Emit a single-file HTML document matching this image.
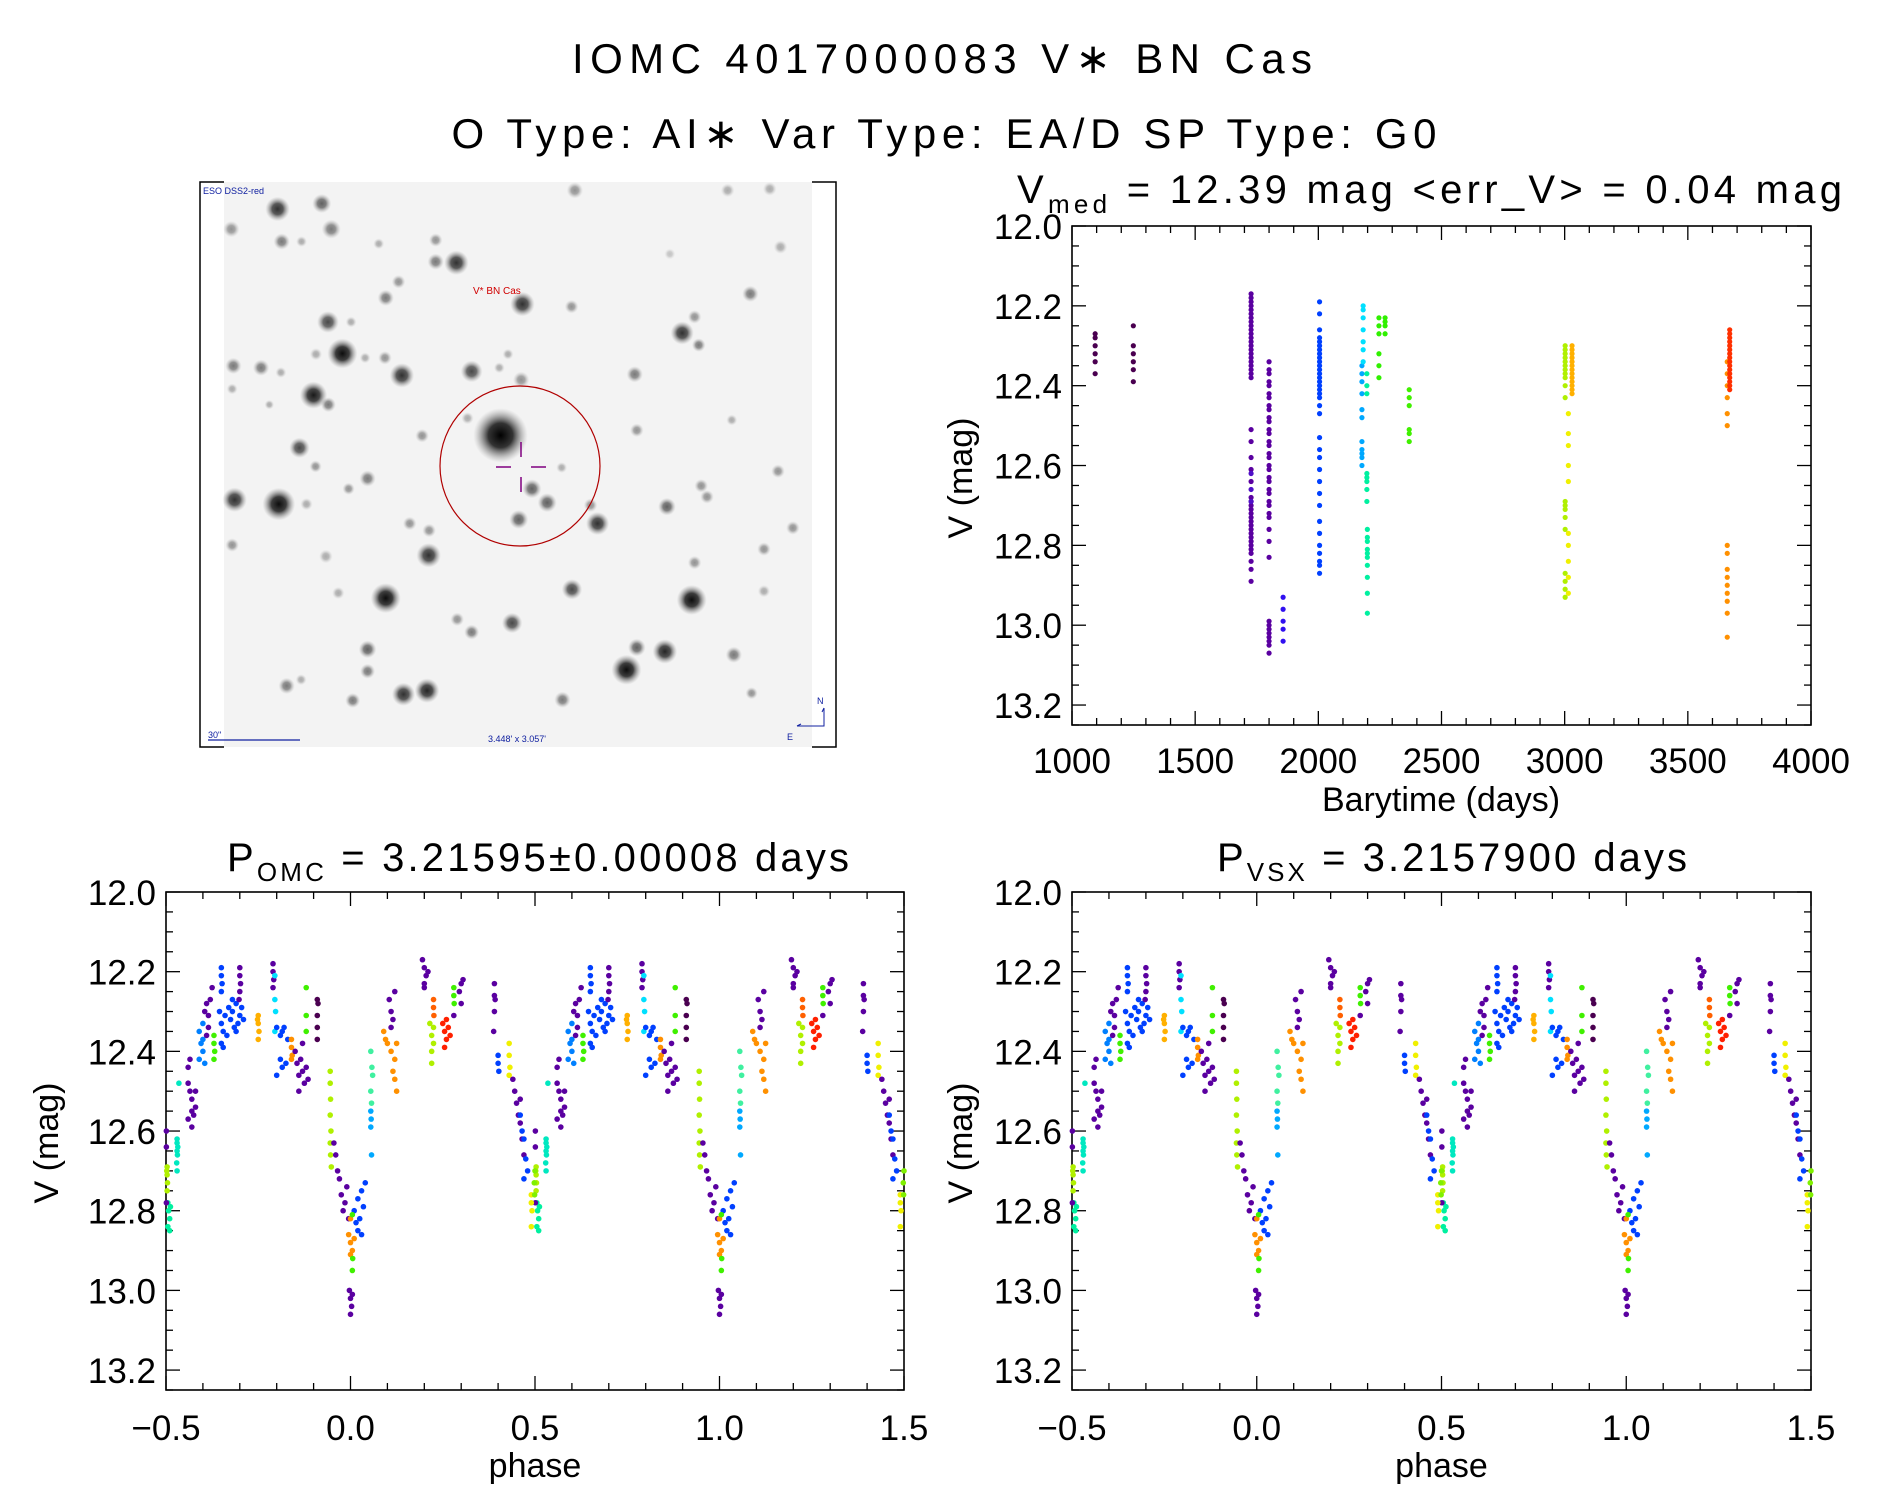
<!DOCTYPE html>
<html><head><meta charset="utf-8"><style>
html,body{margin:0;padding:0;background:#fff;}
svg{display:block;font-family:"Liberation Sans",sans-serif;}
</style></head><body>
<svg id="fig" width="1889" height="1494" viewBox="0 0 1889 1494" xmlns="http://www.w3.org/2000/svg">
<defs>
<radialGradient id="starg"><stop offset="0" stop-color="#000"/><stop offset="0.45" stop-color="#111" stop-opacity="0.85"/><stop offset="1" stop-color="#888" stop-opacity="0"/></radialGradient>
</defs>
<text x="942" y="73" font-size="42" text-anchor="middle" textLength="740" lengthAdjust="spacing">IOMC 4017000083   V∗ BN Cas</text>
<text x="944" y="148" font-size="42" text-anchor="middle" textLength="985" lengthAdjust="spacing">O Type: AI∗  Var Type: EA/D  SP Type: G0</text>
<g id="img"></g>
<g id="ts"></g>
<g id="p1"></g>
<g id="p2"></g>
</svg>
<script>
// ---- chart data ----
const yTicks=[12.0,12.2,12.4,12.6,12.8,13.0,13.2];
const yTickLabels=["12.0","12.2","12.4","12.6","12.8","13.0","13.2"];
const tTicks=[1000,1500,2000,2500,3000,3500,4000];
const tTickLabels=["1000","1500","2000","2500","3000","3500","4000"];
const phTicks=[-0.5,0,0.5,1.0,1.5];
const phTickLabels=["\u22120.5","0.0","0.5","1.0","1.5"];
// time series: colour, time, magnitudes
const tsColors=["#4a0050","#4a0050","#5a00a0","#5a00a0","#5010c8","#5a00a0","#5a00a0","#3010f0","#0040ff","#0040ff","#00a8ff","#00e0ff","#00f0a0","#00f0a0","#30f000","#30f000","#40f000","#b0f000","#f0f000","#ffb000","#ff9000","#ff9000","#ff3000"];
const tsTimes=[1094,1249,1727,1727,1727,1800,1800,1857,2005,2005,2177,2182,2197,2199,2246,2271,2369,3002,3015,3030,3660,3660,3670];
const tsMags=[
[12.27,12.28,12.30,12.32,12.34,12.37],
[12.25,12.30,12.32,12.34,12.36,12.39],
[12.17,12.18,12.19,12.20,12.21,12.22,12.23,12.24,12.25,12.26,12.27,12.28,12.29,12.30,12.31,12.32,12.33,12.34,12.35,12.36,12.37,12.38],
[12.51,12.54,12.58,12.61,12.64,12.68,12.69,12.70,12.71,12.72,12.73,12.74,12.75,12.76,12.77,12.78,12.79,12.80,12.81,12.82,12.84,12.86,12.89],
[12.62,12.66,12.69],
[12.34,12.36,12.37,12.39,12.40,12.42,12.43,12.45,12.46,12.48,12.49,12.51,12.52,12.54,12.55,12.57,12.58,12.60,12.61,12.63,12.64,12.66,12.67,12.69,12.70,12.72,12.73,12.76,12.79,12.83],
[12.99,13.00,13.01,13.02,13.03,13.04,13.05,13.07],
[12.93,12.96,12.99,13.01,13.04],
[12.19,12.22,12.26,12.28,12.29,12.30,12.31,12.32,12.33,12.34,12.35,12.36,12.37,12.38,12.39,12.40,12.41,12.42,12.43,12.45,12.47],
[12.53,12.56,12.58,12.61,12.64,12.67,12.70,12.74,12.77,12.80,12.82,12.84,12.85,12.87],
[12.35,12.37,12.39,12.42,12.46,12.48,12.54,12.56,12.57,12.58,12.60],
[12.20,12.21,12.23,12.26,12.29,12.31,12.34],
[12.37,12.40,12.42,12.62,12.63,12.64,12.66,12.69],
[12.76,12.78,12.79,12.81,12.82,12.83,12.85,12.88,12.92,12.97],
[12.23,12.25,12.27,12.32,12.35,12.38],
[12.23,12.24,12.25,12.27],
[12.41,12.43,12.45,12.51,12.52,12.54],
[12.30,12.31,12.32,12.33,12.34,12.35,12.36,12.37,12.38,12.40,12.43,12.69,12.70,12.71,12.73,12.76,12.87,12.89,12.91,12.93],
[12.47,12.52,12.55,12.60,12.64,12.77,12.80,12.84,12.88,12.92],
[12.30,12.31,12.32,12.33,12.34,12.35,12.36,12.37,12.38,12.39,12.40,12.41,12.42],
[12.34,12.37,12.40,12.43,12.47,12.50],
[12.80,12.82,12.86,12.88,12.90,12.92,12.94,12.97,13.03],
[12.26,12.27,12.28,12.29,12.30,12.31,12.32,12.33,12.34,12.35,12.36,12.37,12.38,12.39,12.40,12.41]
];
// phased data (phase in [-0.5,0.5)); plotted at phase and phase+1
const phColors=["#00f0a0","#b0f000","#5a00a0","#00e8c0","#5a00a0","#0080ff","#5a00a0","#40f000","#0040ff","#0040ff","#5a00a0","#ffb000","#5a00a0","#00e0ff","#0040ff","#ff9000","#5a00a0","#40f000","#4a0050","#b0f000","#5a00a0","#0040ff","#ff9000","#40f000","#5a00a0","#40f0a0","#00a8ff","#ff9000","#5a00a0","#5a00a0","#b0f000","#ff6000","#ff2000","#40f000","#5a00a0","#5a00a0","#0040ff","#f0f000","#5a00a0","#0040ff","#f0f000","#80f000"];
const phPoints=[
[[-0.495,12.78],[-0.493,12.80],[-0.49,12.82],[-0.495,12.84],[-0.49,12.85],[-0.488,12.79]],
[[-0.497,12.69],[-0.497,12.71],[-0.496,12.73],[-0.497,12.75],[-0.498,12.70]],
[[-0.499,12.60],[-0.499,12.64],[-0.499,12.78]],
[[-0.47,12.62],[-0.47,12.63],[-0.468,12.64],[-0.47,12.65],[-0.469,12.66],[-0.471,12.68],[-0.47,12.70],[-0.465,12.48]],
[[-0.44,12.48],[-0.435,12.50],[-0.43,12.52],[-0.43,12.55],[-0.44,12.57],[-0.425,12.56],[-0.42,12.54],[-0.43,12.59],[-0.42,12.50],[-0.44,12.44],[-0.435,12.42]],
[[-0.41,12.35],[-0.405,12.38],[-0.40,12.40],[-0.41,12.42],[-0.40,12.37],[-0.395,12.43],[-0.40,12.33]],
[[-0.395,12.30],[-0.39,12.28],[-0.385,12.31],[-0.38,12.27],[-0.385,12.34],[-0.375,12.24],[-0.39,12.36]],
[[-0.37,12.36],[-0.37,12.38],[-0.368,12.40],[-0.37,12.42]],
[[-0.355,12.30],[-0.35,12.33],[-0.345,12.35],[-0.34,12.31],[-0.335,12.36],[-0.33,12.29],[-0.325,12.32],[-0.32,12.30],[-0.315,12.34],[-0.31,12.28],[-0.305,12.33],[-0.30,12.31],[-0.295,12.29],[-0.29,12.32],[-0.35,12.38],[-0.345,12.39],[-0.32,12.27],[-0.31,12.35]],
[[-0.35,12.19],[-0.35,12.21],[-0.348,12.23],[-0.35,12.25]],
[[-0.30,12.19],[-0.30,12.21],[-0.298,12.23],[-0.30,12.25],[-0.302,12.27]],
[[-0.25,12.31],[-0.25,12.33],[-0.248,12.35],[-0.25,12.37],[-0.252,12.32]],
[[-0.21,12.18],[-0.21,12.20],[-0.208,12.22],[-0.21,12.24]],
[[-0.205,12.21],[-0.205,12.27],[-0.203,12.30],[-0.205,12.35]],
[[-0.2,12.34],[-0.19,12.36],[-0.185,12.35],[-0.18,12.34],[-0.19,12.42],[-0.185,12.44],[-0.175,12.43],[-0.2,12.46],[-0.17,12.37]],
[[-0.16,12.37],[-0.16,12.39],[-0.158,12.41],[-0.16,12.42]],
[[-0.15,12.40],[-0.145,12.43],[-0.14,12.46],[-0.135,12.42],[-0.13,12.45],[-0.125,12.48],[-0.12,12.44],[-0.115,12.47],[-0.14,12.50],[-0.13,12.38]],
[[-0.12,12.24],[-0.12,12.31],[-0.12,12.35]],
[[-0.09,12.27],[-0.088,12.28],[-0.09,12.31],[-0.09,12.34],[-0.09,12.37]],
[[-0.055,12.45],[-0.055,12.48],[-0.054,12.52],[-0.055,12.56],[-0.053,12.60],[-0.055,12.63],[-0.054,12.66],[-0.052,12.69]],
[[-0.045,12.63],[-0.04,12.66],[-0.035,12.70],[-0.03,12.72],[-0.025,12.76],[-0.02,12.80],[-0.015,12.78],[-0.01,12.74],[-0.005,12.82]],
[[0.01,12.80],[0.015,12.83],[0.02,12.85],[0.025,12.82],[0.03,12.86],[0.035,12.79],[0.03,12.75],[0.04,12.73],[0.02,12.77]],
[[-0.005,12.86],[0.0,12.88],[0.005,12.90],[0.0,12.91],[0.01,12.87],[0.0,12.82]],
[[0.005,12.81],[0.006,12.92],[0.005,12.95]],
[[-0.003,13.00],[0.0,13.02],[0.003,13.04],[0.0,13.06],[0.005,13.01]],
[[0.055,12.40],[0.058,12.44],[0.06,12.46],[0.055,12.50],[0.057,12.53]],
[[0.055,12.55],[0.056,12.57],[0.055,12.59],[0.057,12.66]],
[[0.09,12.35],[0.095,12.37],[0.1,12.38],[0.11,12.40],[0.12,12.42],[0.115,12.45],[0.125,12.38],[0.12,12.47],[0.125,12.50]],
[[0.105,12.27],[0.11,12.30],[0.115,12.32],[0.12,12.25],[0.11,12.34]],
[[0.195,12.17],[0.2,12.19],[0.205,12.21],[0.2,12.23],[0.21,12.20],[0.2,12.24]],
[[0.215,12.33],[0.22,12.36],[0.225,12.38],[0.22,12.40],[0.22,12.43],[0.225,12.34]],
[[0.225,12.27],[0.225,12.29],[0.226,12.31]],
[[0.25,12.33],[0.255,12.35],[0.26,12.32],[0.265,12.34],[0.26,12.37],[0.27,12.36],[0.255,12.39]],
[[0.28,12.24],[0.28,12.26],[0.281,12.28]],
[[0.28,12.31],[0.3,12.23],[0.305,12.22],[0.295,12.25],[0.3,12.28]],
[[0.39,12.23],[0.39,12.26],[0.392,12.27],[0.39,12.30],[0.388,12.35]],
[[0.40,12.41],[0.40,12.43],[0.402,12.45]],
[[0.43,12.38],[0.43,12.41],[0.432,12.44],[0.43,12.46]],
[[0.44,12.47],[0.445,12.50],[0.45,12.53],[0.455,12.56],[0.46,12.58],[0.465,12.62],[0.47,12.66],[0.46,12.52]],
[[0.46,12.56],[0.465,12.60],[0.47,12.62],[0.475,12.67],[0.48,12.70],[0.47,12.72]],
[[0.49,12.76],[0.49,12.78],[0.492,12.80],[0.49,12.84]],
[[0.5,12.70],[0.498,12.73],[0.499,12.76]]
];
</script>
<script>
const NS="http://www.w3.org/2000/svg";
function mk(parent,tag,attrs,txt){const e=document.createElementNS(NS,tag);for(const k in attrs)e.setAttribute(k,attrs[k]);if(txt!==undefined)e.textContent=txt;parent.appendChild(e);return e;}

function axes(g,x0,x1,y0,y1,xmin,xmax,xTicks,xLabels,xMinor,yLabelX,xlabY){
  const X=v=>x0+(v-xmin)/(xmax-xmin)*(x1-x0);
  const Y=v=>y0+(v-12.0)/(13.25-12.0)*(y1-y0);
  const fr=mk(g,'rect',{x:x0,y:y0,width:x1-x0,height:y1-y0,fill:'none',stroke:'#000','stroke-width':1.6});
  
  
  const tk=mk(g,'g',{stroke:'#000','stroke-width':1.3});
  
  
  for(let i=0;i<=25;i++){const v=12.0+i*0.05;if(v>13.25+1e-9)break;const y=Y(v);const L=(i%4===0)?14:7;
    mk(tk,'line',{x1:x0,y1:y,x2:x0+L,y2:y});mk(tk,'line',{x1:x1,y1:y,x2:x1-L,y2:y});}
  const nM=Math.round((xmax-xmin)/xMinor);
  const majStep=(xTicks[1]-xTicks[0]);
  for(let i=0;i<=nM;i++){const v=xmin+i*xMinor;const x=X(v);const maj=Math.abs(((v-xmin)/majStep)-Math.round((v-xmin)/majStep))<1e-6;const L=maj?14:7;
    mk(tk,'line',{x1:x,y1:y1,x2:x,y2:y1-L});mk(tk,'line',{x1:x,y1:y0,x2:x,y2:y0+L});}
  yTicks.forEach((v,i)=>{const t=mk(g,'text',{x:yLabelX,y:Y(v)+13,'font-size':35,'text-anchor':'end'},yTickLabels[i]);
    
    });
  xTicks.forEach((v,i)=>{const t=mk(g,'text',{x:X(v),y:xlabY,'font-size':35,'text-anchor':'middle'},xLabels[i]);
    
    });
  return {X,Y};
}
function ylab(g,x,y){const t=mk(g,'text',{x:x,y:y,'font-size':34,'text-anchor':'middle',transform:`rotate(-90 ${x} ${y})`},'V (mag)');
  
  }

// ---- time series plot ----
(function(){
  const g=document.getElementById('ts');
  const a=axes(g,1072,1811,226,725,1000,4000,tTicks,tTickLabels,100,1062,773);
  const pts=mk(g,'g',{});
  
  
  tsMags.forEach((ms,gi)=>{ms.forEach(m=>{const c=mk(pts,'circle',{cx:a.X(tsTimes[gi]),cy:a.Y(m),r:2.6,fill:tsColors[gi]});
    
    });});
  const tt=mk(g,'text',{x:1441,y:811,'font-size':34,'text-anchor':'middle'},'Barytime (days)');
  
  
  ylab(g,972,478);
  const ti=mk(g,'text',{x:1017,y:203,'font-size':40,textLength:825,lengthAdjust:'spacing'},'');
  
  
  mk(ti,'tspan',{},'V');mk(ti,'tspan',{'font-size':26,dy:10},'med');mk(ti,'tspan',{dy:-10},' =  12.39  mag  <err_V>  =  0.04  mag');
})();

// ---- phase plots ----
function phasePlot(id,x0,x1,labX,ylX,title,sub,titleX,tlen){
  const g=document.getElementById(id);
  const a=axes(g,x0,x1,892,1390,-0.5,1.5,phTicks,phTickLabels,0.1,labX,1440);
  const pts=mk(g,'g',{});
  
  
  phPoints.forEach((cl,ci)=>{cl.forEach(p=>{[p[0],p[0]+1,p[0]+2].forEach(ph=>{if(ph<-0.5||ph>1.5)return;
    const c=mk(pts,'circle',{cx:a.X(ph),cy:a.Y(p[1]),r:2.8,fill:phColors[ci]});
    
    });});});
  const xt=mk(g,'text',{x:(x0+x1)/2,y:1477,'font-size':34,'text-anchor':'middle'},'phase');
  
  
  ylab(g,ylX,1143);
  const ti=mk(g,'text',{x:titleX,y:871,'font-size':40,textLength:tlen,lengthAdjust:'spacing'},'');
  
  
  mk(ti,'tspan',{},'P');mk(ti,'tspan',{'font-size':26,dy:10},sub);mk(ti,'tspan',{dy:-10},title);
}
phasePlot('p1',166,904,156,58,' =  3.21595\u00b10.00008  days','OMC',227,622);
phasePlot('p2',1072,1811,1062,972,' =  3.2157900  days','VSX',1217,470);

// ---- sky image ----
const stars=[[200,93,18,.8],[307,78,14,.6],[88,148,12,.4],[330,148,14,.5],[210,182,12,.5],[258,182,8,.3],[445,188,8,.3],[583,178,10,.4],[583,237,12,.5],[633,240,18,.8],[920,42,12,.4],[1290,42,10,.3],[1392,38,10,.3],[1418,197,10,.3],[1150,216,8,.2],[493,292,10,.4],[462,336,12,.5],[793,353,18,.8],[912,360,10,.4],[1345,325,12,.5],[1210,388,10,.4],[1180,432,17,.8],[1220,465,10,.5],[322,402,16,.7],[378,402,8,.3],[357,488,22,.95],[293,490,9,.3],[412,500,8,.3],[460,500,10,.4],[758,490,8,.3],[93,522,12,.5],[160,527,12,.5],[208,540,8,.3],[501,548,18,.8],[670,537,16,.7],[737,527,8,.3],[790,560,12,.4],[1065,545,12,.5],[287,602,20,.9],[323,628,11,.5],[90,585,8,.3],[180,628,7,.3],[660,665,9,.3],[740,712,40,1],[550,713,10,.4],[1070,698,10,.4],[1300,670,8,.3],[253,746,15,.7],[292,797,9,.4],[418,830,12,.5],[372,858,9,.4],[96,888,18,.8],[203,900,24,.95],[270,900,9,.3],[816,858,14,.6],[853,896,14,.6],[888,800,8,.3],[958,903,10,.4],[975,953,17,.8],[784,942,14,.6],[1143,907,13,.6],[1226,850,10,.4],[1240,880,10,.4],[1412,810,10,.4],[520,953,10,.4],[567,972,10,.4],[90,1012,10,.4],[1448,965,10,.4],[566,1040,18,.8],[317,1043,10,.3],[1378,1023,10,.4],[1210,1060,10,.4],[913,1133,15,.7],[1203,1162,22,.95],[462,1157,22,.95],[347,1143,9,.3],[1378,1138,9,.3],[635,1215,10,.4],[768,1225,15,.7],[670,1250,11,.5],[418,1297,13,.6],[418,1357,11,.5],[1070,1292,13,.6],[1138,1303,18,.85],[1045,1353,22,.95],[1305,1312,12,.5],[222,1397,12,.5],[257,1380,8,.3],[505,1420,17,.8],[562,1410,18,.85],[382,1437,11,.5],[890,1435,12,.5],[1348,1417,9,.4]];
(function(){
  const g=document.getElementById('img');
  const sx=v=>195+v*640/1550, sy=v=>175+v*565/1545;
  mk(g,'rect',{x:224,y:182,width:588,height:565,fill:'#f3f3f3'});
  mk(g,'path',{d:'M224 182 H200 V747 H224 M812 182 H836 V747 H812',fill:'none',stroke:'#000','stroke-width':1.5});
  stars.forEach(s=>{const c=mk(g,'circle',{cx:sx(s[0]),cy:sy(s[1]),r:s[2]/2.2*1.5,fill:'url(#starg)',opacity:s[3]});
    
    });
  const circ=mk(g,'ellipse',{cx:520,cy:466,rx:80,ry:80,fill:'none',stroke:'#b00000','stroke-width':1.2});
  
  
  mk(g,'path',{d:'M496 467 H511 M531 467 H546 M521 442 V457 M521 477 V492',stroke:'#800080','stroke-width':1.5});
  const lab=mk(g,'text',{x:473,y:294,'font-size':10,fill:'#d00000'},'V* BN Cas');
  
  
  mk(g,'text',{x:203,y:194,'font-size':9,fill:'#1020a0'},'ESO DSS2-red');
  mk(g,'text',{x:208,y:738,'font-size':9,fill:'#1020a0'},'30"');
  mk(g,'path',{d:'M208 740 H300',stroke:'#1020a0','stroke-width':1.2});
  mk(g,'text',{x:488,y:742,'font-size':9,fill:'#1020a0'},'3.448\' x 3.057\'');
  mk(g,'path',{d:'M824 708 V726 H797 M824 708 l-2 4 M797 726 l4 -2',stroke:'#1020a0','stroke-width':1,fill:'none'});
  mk(g,'text',{x:817,y:704,'font-size':9,fill:'#1020a0'},'N');
  mk(g,'text',{x:787,y:740,'font-size':9,fill:'#1020a0'},'E');
})();
</script>
</body></html>
